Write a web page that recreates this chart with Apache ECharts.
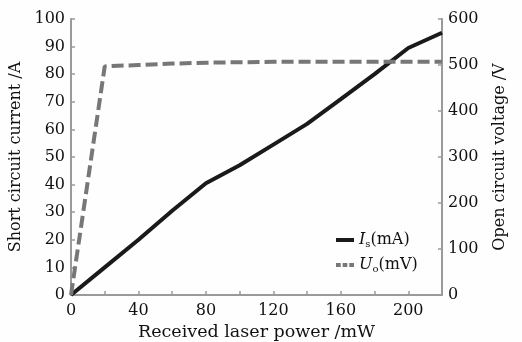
<!DOCTYPE html>
<html>
<head>
<meta charset="utf-8">
<script src="https://cdn.jsdelivr.net/npm/echarts@6/dist/echarts.min.js"></script>
<style>
  html, body { margin: 0; padding: 0; background: #fefefe; }
  #chart { width: 522px; height: 342px; }
</style>
</head>
<body>
<div id="chart"></div>
<script>
// received laser power (mW)
const power = [0, 20, 40, 60, 80, 100, 120, 140, 160, 180, 200, 220];
// short circuit current Is (mA)
const currentIs = [0, 10, 20, 30.5, 40.5, 47, 54.5, 62, 71, 80, 89.5, 95];
// open circuit voltage Uo (mV)
const voltageUo = [0, 497, 500, 503, 505, 506, 507, 507, 507, 507, 507, 507];

const font = 'DejaVu Serif';
const axisGray = '#9a9a9a';

const chart = echarts.init(document.getElementById('chart'));

const pairs = (ys) => power.map((x, i) => [x, ys[i]]);

const option = {
  backgroundColor: '#fefefe',
  animation: false,
  textStyle: { fontFamily: font, color: '#111' },
  grid: { left: 71, right: 80, top: 19, bottom: 47, outerBoundsMode: 'none', containLabel: false },
  legend: {
    orient: 'vertical',
    left: 331,
    top: 227,
    itemWidth: 18,
    itemHeight: 4,
    itemGap: 8,
    data: [
      { name: 'Is', icon: 'rect', itemStyle: { color: '#1a1a1a' } },
      { name: 'Uo', icon: 'path://M0,0H5V4H0Z M7,0H12V4H7Z M14,0H19V4H14Z', itemStyle: { color: '#777' } }
    ],
    formatter: (name) => name === 'Is' ? '{i|I}{s|s}(mA)' : '{i|U}{s|o}(mV)',
    textStyle: {
      fontFamily: font,
      fontSize: 16,
      color: '#111',
      rich: {
        i: { fontFamily: font, fontStyle: 'italic', fontSize: 16, color: '#111' },
        s: { fontFamily: font, fontSize: 10, color: '#111', verticalAlign: 'bottom', padding: [8, 0, 0, 0] }
      }
    }
  },
  xAxis: {
    type: 'value',
    min: 0,
    max: 220,
    interval: 20,
    name: 'Received laser power /mW',
    nameLocation: 'middle',
    nameGap: 28,
    nameTextStyle: { fontFamily: font, fontSize: 17.5, color: '#111' },
    axisLine: { lineStyle: { color: axisGray, width: 2 } },
    axisTick: { inside: true, length: 4, lineStyle: { color: axisGray, width: 1.5 } },
    axisLabel: {
      fontFamily: font, fontSize: 16, color: '#111', margin: 8,
      formatter: (v) => (v % 40 === 0 && v <= 200 ? String(v) : '')
    },
    splitLine: { show: false }
  },
  yAxis: [
    {
      type: 'value',
      min: 0,
      max: 100,
      interval: 10,
      name: 'Short circuit current /A',
      nameLocation: 'middle',
      nameGap: 45,
      nameTextStyle: { fontFamily: font, fontSize: 16, color: '#111' },
      axisLine: { show: true, lineStyle: { color: axisGray, width: 2 } },
      axisTick: { show: true, inside: true, length: 4, lineStyle: { color: axisGray, width: 1.5 } },
      axisLabel: { fontFamily: font, fontSize: 16, color: '#111', margin: 6 },
      splitLine: { show: false }
    },
    {
      type: 'value',
      position: 'right',
      min: 0,
      max: 600,
      interval: 100,
      name: 'Open circuit voltage /V',
      nameLocation: 'middle',
      nameGap: 50,
      nameRotate: 90,
      nameTextStyle: { fontFamily: font, fontSize: 16, color: '#111' },
      axisLine: { show: true, lineStyle: { color: axisGray, width: 2 } },
      axisTick: { show: true, inside: true, length: 4, lineStyle: { color: axisGray, width: 1.5 } },
      axisLabel: { fontFamily: font, fontSize: 16, color: '#111', margin: 6 },
      splitLine: { show: false }
    }
  ],
  series: [
    {
      name: 'Is',
      type: 'line',
      yAxisIndex: 0,
      data: pairs(currentIs),
      showSymbol: false,
      symbol: 'none',
      color: '#1a1a1a',
      lineStyle: { color: '#1a1a1a', width: 4 }
    },
    {
      name: 'Uo',
      type: 'line',
      yAxisIndex: 1,
      data: pairs(voltageUo),
      showSymbol: false,
      symbol: 'none',
      color: '#777',
      lineStyle: { color: '#777', width: 4, type: [12, 5] }
    }
  ]
};

chart.setOption(option);
</script>
</body>
</html>
